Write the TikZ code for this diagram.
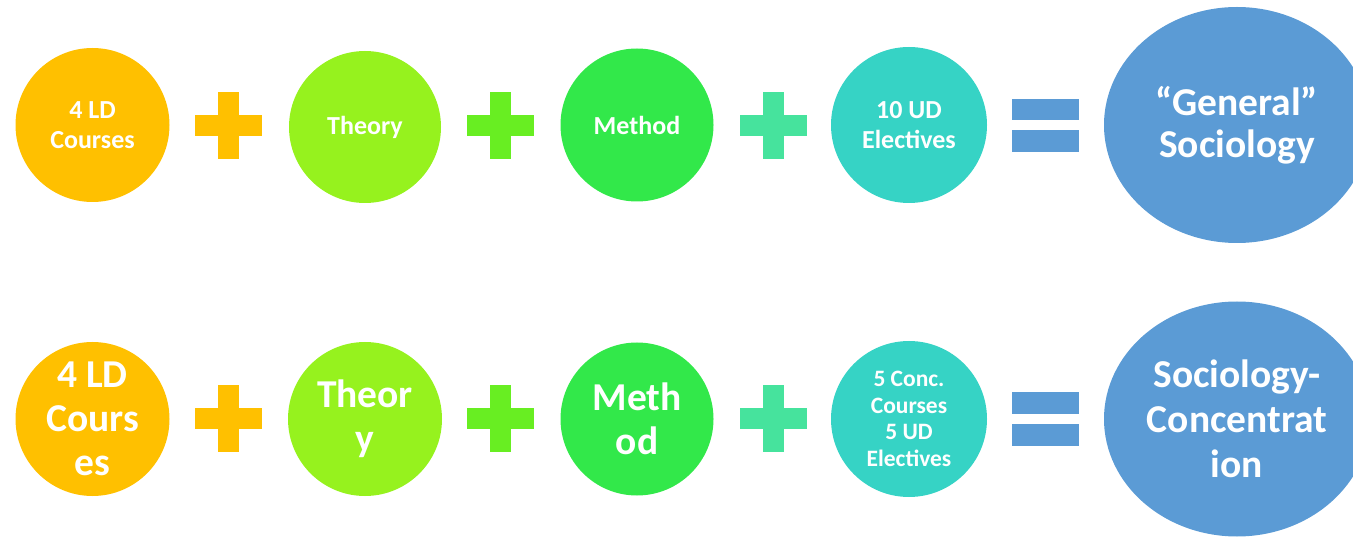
\documentclass[tikz,border=0pt]{standalone}
\usepackage{fontspec}
\setmainfont{Carlito}
\usetikzlibrary{shapes.geometric}
\definecolor{cOrange}{HTML}{FFC000}
\definecolor{cTheory}{HTML}{96F21E}
\definecolor{cMethod}{HTML}{32E84A}
\definecolor{cTeal}{HTML}{36D3C5}
\definecolor{cPlusA}{HTML}{FFC000}
\definecolor{cPlusB}{HTML}{68EE22}
\definecolor{cPlusC}{HTML}{46E39D}
\definecolor{cBlue}{HTML}{5B9BD5}
\tikzset{
  ball/.style={circle, inner sep=0pt, text=white, align=center, font=\bfseries},
  oval/.style={ellipse, inner sep=0pt, fill=cBlue, text=white, align=center, font=\bfseries},
  fA/.style={font=\fontsize{26}{29.5}\selectfont\bfseries},
  fB/.style={font=\fontsize{39.5}{44}\selectfont\bfseries},
  fC/.style={font=\fontsize{23.5}{26.7}\selectfont\bfseries},
  fD/.style={font=\fontsize{39.5}{42}\selectfont\bfseries},
  fE/.style={font=\fontsize{39.5}{45}\selectfont\bfseries},
}
\newcommand{\plussign}[3]{% color, cx, cy
  \fill[#1] (#2-33.5,-#3-10.5) rectangle (#2+33.5,-#3+10.5);
  \fill[#1] (#2-10.5,-#3-33.5) rectangle (#2+10.5,-#3+33.5);
}
\newcommand{\eqsign}[2]{% cx, cy
  \fill[cBlue] (#1-33.5,-#2+5) rectangle (#1+33.5,-#2+26.5);
  \fill[cBlue] (#1-33.5,-#2-5) rectangle (#1+33.5,-#2-26.5);
}
\begin{document}
\begin{tikzpicture}[x=1pt,y=1pt]
\useasboundingbox (0,0) rectangle (1353,-537);
\clip (0,0) rectangle (1353,-537);
% top row
\node[ball, fill=cOrange, minimum size=154pt, fA] (a1) at (92.5,-125) {4 LD\\Courses};
\plussign{cPlusA}{228.5}{125.5}
\node[ball, fill=cTheory, minimum size=152pt, fA] (a2) at (365,-127) {Theory};
\plussign{cPlusB}{500.5}{125.5}
\node[ball, fill=cMethod, minimum size=153pt, fA] (a3) at (637,-125) {Method};
\plussign{cPlusC}{773}{125.5}
\node[ball, fill=cTeal, minimum size=156pt, fA] (a4) at (909,-125) {10 UD\\Electives};
\eqsign{1045.5}{125.5}
\node[oval, minimum width=266pt, minimum height=236pt, fD] (a5) at (1237,-125) {“General”\\Sociology};
% bottom row
\node[ball, fill=cOrange, minimum size=154pt, fB] (b1) at (92.5,-419) {4 LD\\Cours\\es};
\plussign{cPlusA}{228.5}{418.5}
\node[ball, fill=cTheory, minimum size=154pt, fB] (b2) at (365,-419) {Theor\\y};
\plussign{cPlusB}{500.5}{418.5}
\node[ball, fill=cMethod, minimum size=153pt, fB] (b3) at (637,-419) {Meth\\od};
\plussign{cPlusC}{773}{418.5}
\node[ball, fill=cTeal, minimum size=156pt, fC] (b4) at (909,-419) {5 Conc.\\Courses\\5 UD\\Electives};
\eqsign{1045.5}{419}
\node[oval, minimum width=266pt, minimum height=235pt, fE] (b5) at (1237,-419) {Sociology-\\Concentrat\\ion};
\end{tikzpicture}
\end{document}
